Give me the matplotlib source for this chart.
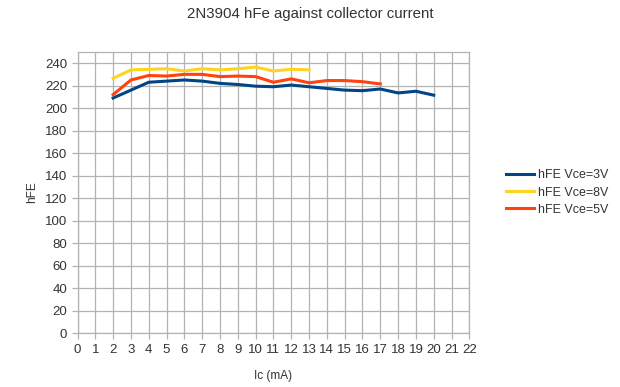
import matplotlib.pyplot as plt

plt.rcParams['font.family'] = ['Liberation Sans', 'DejaVu Sans']

# collector current (mA) and measured hFE for each Vce
ic_3v = [2, 3, 4, 5, 6, 7, 8, 9, 10, 11, 12, 13, 14, 15, 16, 17, 18, 19, 20]
hfe_3v = [209, 216, 223, 224, 225, 224, 222, 221, 219.5, 219, 220.5, 219,
          217.5, 216, 215.5, 217, 213.5, 215, 211.5]

ic_8v = [2, 3, 4, 5, 6, 7, 8, 9, 10, 11, 12, 13]
hfe_8v = [226.5, 234, 234.5, 235, 233, 235, 234, 235, 236.5, 233, 234.5, 234]

ic_5v = [2, 3, 4, 5, 6, 7, 8, 9, 10, 11, 12, 13, 14, 15, 16, 17]
hfe_5v = [212, 225, 229, 228.5, 230, 230, 228, 228.5, 228, 223, 226, 222.5,
          224.5, 224.5, 223.5, 221.5]

grid_c = '#b3b3b3'
text_c = '#333333'

fig = plt.figure(figsize=(6.2, 3.87), dpi=100)
ax = fig.add_axes([0.125, 0.139, 0.632, 0.727])

ax.plot(ic_3v, hfe_3v, color='#004586', lw=2.2, label='hFE Vce=3V')
ax.plot(ic_8v, hfe_8v, color='#ffd320', lw=2.2, label='hFE Vce=8V')
ax.plot(ic_5v, hfe_5v, color='#ff420e', lw=2.2, label='hFE Vce=5V')

ax.set_xlim(0, 22)
ax.set_ylim(0, 250)
ax.set_xticks(range(0, 23))
ax.set_yticks(range(0, 241, 20))
ax.grid(True, color=grid_c, lw=0.9)
ax.set_axisbelow(True)
for s in ax.spines.values():
    s.set_color(grid_c)
    s.set_linewidth(0.9)
ax.tick_params(colors=grid_c, labelcolor=text_c, labelsize=9.5, length=4, width=0.9)

ax.set_xlabel('Ic (mA)', fontsize=8.5, color=text_c, labelpad=10)
ax.set_ylabel('hFE', fontsize=8.5, color=text_c, labelpad=5)
fig.suptitle('2N3904 hFe against collector current', fontsize=10.8, color=text_c, y=0.982)

ax.legend(loc='center left', bbox_to_anchor=(1.065, 0.50), frameon=False,
          fontsize=9, handlelength=2.2, handletextpad=0.35, labelspacing=0.42,
          labelcolor=text_c)

plt.savefig('out.png', dpi=100)
